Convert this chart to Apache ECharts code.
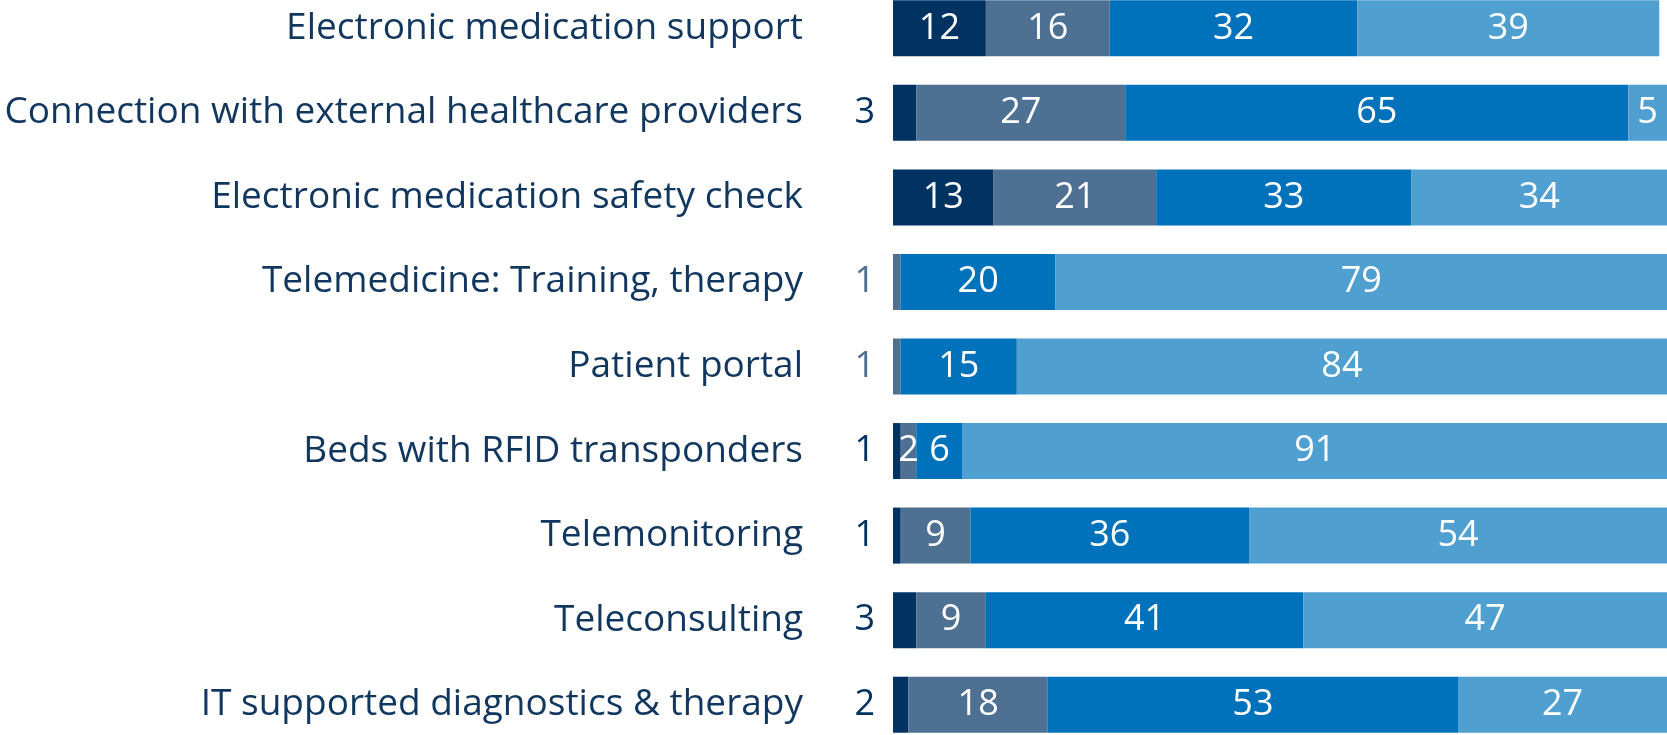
<!DOCTYPE html>
<html>
<head>
<meta charset="utf-8">
<script src="https://cdn.jsdelivr.net/npm/echarts@6/dist/echarts.min.js"></script>
<style>
  html, body { margin: 0; padding: 0; background: #fff; }
  #chart { width: 1667px; height: 735px; }
</style>
</head>
<body>
<div id="chart"></div>
<script>
// categories, top to bottom
var categories = [
  'Electronic medication support',
  'Connection with external healthcare providers',
  'Electronic medication safety check',
  'Telemedicine: Training, therapy',
  'Patient portal',
  'Beds with RFID transponders',
  'Telemonitoring',
  'Teleconsulting',
  'IT supported diagnostics & therapy'
];
// stacked shares (percent), one array per segment
var seg1 = [12, 3, 13, 0, 0, 1, 1, 3, 2];
var seg2 = [16, 27, 21, 1, 1, 2, 9, 9, 18];
var seg3 = [32, 65, 33, 20, 15, 6, 36, 41, 53];
var seg4 = [39, 5, 34, 79, 84, 91, 54, 47, 27];

var colors = ['#003262', '#4d7093', '#0072bb', '#4f9fd1'];
var all = [seg1, seg2, seg3, seg4];

// first non-zero small segment gets its label outside, left of the bar
function buildData(k) {
  return all[k].map(function (v, i) {
    var first = true;
    for (var j = 0; j < k; j++) { if (all[j][i] > 0) first = false; }
    var item = { value: v };
    if (first && v > 0 && v < 4) {
      item.label = { position: 'left', distance: 18, color: colors[k] };
    }
    return item;
  });
}

var myChart = echarts.init(document.getElementById('chart'));
var fontFam = '"Open Sans", sans-serif';
var series = [];
for (var k = 0; k < 4; k++) {
  series.push({
    name: 'Segment ' + (k + 1),
    type: 'bar',
    stack: 'total',
    barWidth: 56,
    itemStyle: { color: colors[k] },
    label: {
      show: true,
      position: 'inside',
      color: '#fff',
      fontSize: 36,
      fontFamily: fontFam,
      formatter: function (p) { return p.value > 0 ? p.value : ''; }
    },
    data: buildData(k)
  });
}

var option = {
  animation: false,
  grid: { left: 893, width: 774, top: -14, height: 761, containLabel: false, outerBoundsMode: 'none' },
  xAxis: { type: 'value', min: 0, max: 100, show: false },
  yAxis: {
    type: 'category',
    inverse: true,
    data: categories,
    axisLine: { show: false },
    axisTick: { show: false },
    axisLabel: { color: '#12375f', fontSize: 37, fontFamily: fontFam, margin: 90 }
  },
  series: series
};
myChart.setOption(option);
</script>
</body>
</html>
